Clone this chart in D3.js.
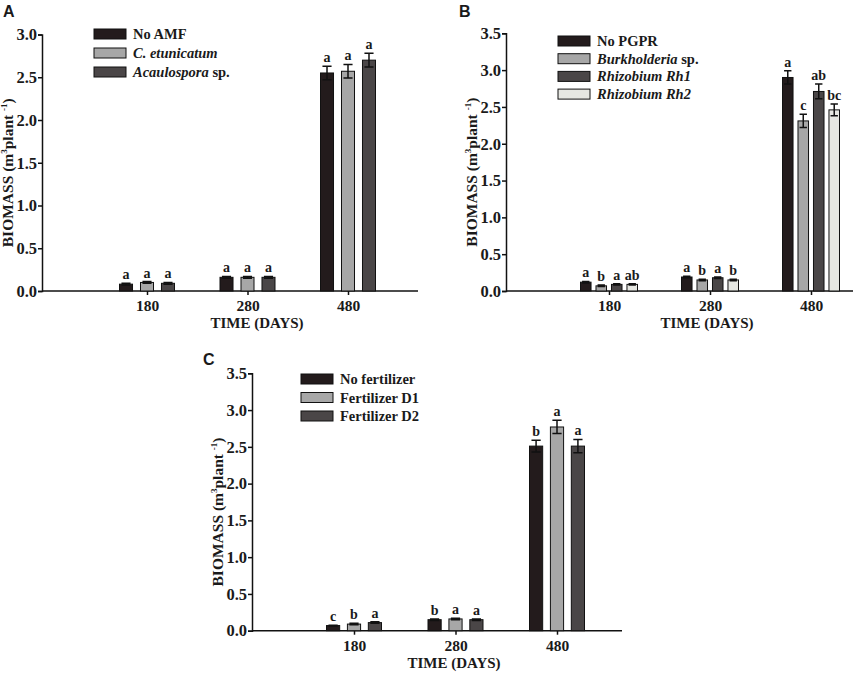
<!DOCTYPE html>
<html>
<head>
<meta charset="utf-8">
<script src="https://cdn.jsdelivr.net/npm/d3@7"></script>
<style>
  body { margin: 0; background: #fff; }
  svg text { font-family: "Liberation Serif", "Times New Roman", serif; font-weight: bold; fill: #1a1a1a; }
  svg text.panel { font-family: "Liberation Sans", Arial, sans-serif; }
</style>
</head>
<body>
<div id="chart"></div>
<script>
const days = ["180", "280", "480"];

// panel A - mycorrhizal fungi
const amfSeries = ["No AMF", "C. etunicatum", "Acaulospora sp."];
const amfItalic = ["", "C. etunicatum", "Acaulospora"];
const amfMeans = [[0.08, 0.16, 2.55], [0.10, 0.16, 2.57], [0.09, 0.16, 2.70]];
const amfErr = [[0.01, 0.01, 0.08], [0.01, 0.01, 0.08], [0.01, 0.01, 0.08]];
const amfLetters = [["a", "a", "a"], ["a", "a", "a"], ["a", "a", "a"]];

// panel B - PGPR
const pgprSeries = ["No PGPR", "Burkholderia sp.", "Rhizobium Rh1", "Rhizobium Rh2"];
const pgprItalic = ["", "Burkholderia", "Rhizobium Rh1", "Rhizobium Rh2"];
const pgprMeans = [[0.12, 0.19, 2.90], [0.07, 0.15, 2.31], [0.09, 0.18, 2.71], [0.09, 0.15, 2.46]];
const pgprErr = [[0.01, 0.01, 0.09], [0.01, 0.01, 0.09], [0.01, 0.01, 0.10], [0.01, 0.01, 0.08]];
const pgprLetters = [["a", "a", "a"], ["b", "b", "c"], ["a", "a", "ab"], ["ab", "b", "bc"]];

// panel C - fertilizer
const fertSeries = ["No fertilizer", "Fertilizer D1", "Fertilizer D2"];
const fertItalic = ["", "", ""];
const fertMeans = [[0.07, 0.15, 2.51], [0.09, 0.16, 2.77], [0.11, 0.15, 2.51]];
const fertErr = [[0.005, 0.01, 0.08], [0.01, 0.01, 0.09], [0.01, 0.01, 0.09]];
const fertLetters = [["c", "b", "b"], ["b", "a", "a"], ["a", "a", "a"]];

const yTicksA = [0, 0.5, 1.0, 1.5, 2.0, 2.5, 3.0];
const yTicksBC = [0, 0.5, 1.0, 1.5, 2.0, 2.5, 3.0, 3.5];

const colors3 = ["#231b1c", "#a7a7a7", "#4a4647"];
const colors4 = ["#231b1c", "#a7a7a7", "#4a4647", "#e6e7e2"];

const svg = d3.select("#chart")
  .append("svg")
  .attr("width", 856)
  .attr("height", 673);

function drawPanel(p) {
  const g = svg.append("g");

  const y = d3.scaleLinear().domain([0, p.yMax]).range([p.y0, p.yTop]);
  const x0 = d3.scalePoint().domain(days).range(p.centers);
  const x1 = d3.scaleBand()
    .domain(p.series)
    .range([-p.groupW / 2, p.groupW / 2])
    .paddingInner(p.pad);

  // y axis
  const yAxis = g.append("g")
    .attr("transform", `translate(${p.x},0)`)
    .call(d3.axisLeft(y).tickValues(p.yTicks).tickFormat(d3.format(".1f")).tickSize(4).tickPadding(1));
  yAxis.select(".domain").attr("stroke", "#111").attr("stroke-width", 1.5);
  yAxis.selectAll(".tick line").attr("stroke", "#111").attr("stroke-width", 1.5);
  yAxis.selectAll("text").attr("font-size", 16.5).attr("fill", "#1a1a1a");

  // x axis
  const xAxis = g.append("g")
    .attr("transform", `translate(0,${p.y0})`)
    .call(d3.axisBottom(x0).tickSize(4).tickPadding(5));
  xAxis.select(".domain").attr("d", `M${p.x},0H${p.right}`).attr("stroke", "#111").attr("stroke-width", 1.5);
  xAxis.selectAll(".tick line").attr("stroke", "#111").attr("stroke-width", 1.5);
  xAxis.selectAll("text").attr("font-size", 15.5).attr("fill", "#1a1a1a");

  // bars
  p.series.forEach((s, si) => {
    const bw = x1.bandwidth();
    days.forEach((d, di) => {
      const v = p.means[si][di];
      const e = p.err[si][di];
      const bx = x0(d) + x1(s);
      g.append("rect")
        .attr("x", bx)
        .attr("y", y(v))
        .attr("width", bw)
        .attr("height", y(0) - y(v))
        .attr("fill", p.colors[si])
        .attr("stroke", "#111")
        .attr("stroke-width", 1);

      const cx = bx + bw / 2;
      const cap = bw * 0.35;
      g.append("path")
        .attr("d", `M${cx},${y(v - e)}V${y(v + e)}M${cx - cap},${y(v + e)}H${cx + cap}M${cx - cap},${y(v - e)}H${cx + cap}`)
        .attr("stroke", "#111")
        .attr("stroke-width", 1.5)
        .attr("fill", "none");

      g.append("text")
        .attr("x", cx)
        .attr("y", y(v + e) - 4)
        .attr("text-anchor", "middle")
        .attr("font-size", 14)
        .text(p.letters[si][di]);
    });
  });

  // legend
  p.series.forEach((s, si) => {
    const ly = p.legendY + si * p.legendStep;
    g.append("rect")
      .attr("x", p.legendX)
      .attr("y", ly - 5)
      .attr("width", 32)
      .attr("height", 10)
      .attr("fill", p.colors[si])
      .attr("stroke", "#111")
      .attr("stroke-width", 1);
    const t = g.append("text")
      .attr("x", p.legendX + 39)
      .attr("y", ly + 5)
      .attr("font-size", 14.5);
    const it = p.italic[si];
    if (it && s.startsWith(it)) {
      t.append("tspan").attr("font-style", "italic").text(it);
      t.append("tspan").text(s.slice(it.length));
    } else {
      t.text(s);
    }
  });

  // axis titles
  g.append("text")
    .attr("x", p.titleX)
    .attr("y", p.y0 + 37)
    .attr("text-anchor", "middle")
    .attr("font-size", 15)
    .text("TIME (DAYS)");

  const yl = g.append("text")
    .attr("transform", `translate(${p.x - 29},${(p.y0 + p.yTop) / 2 + 10}) rotate(-90)`)
    .attr("text-anchor", "middle")
    .attr("font-size", 15.5);
  yl.append("tspan").text("BIOMASS (m");
  yl.append("tspan").attr("font-size", 9).attr("dy", -6).text("3");
  yl.append("tspan").attr("dy", 6).text("plant ");
  yl.append("tspan").attr("font-size", 9).attr("dy", -6).text("-1");
  yl.append("tspan").attr("dy", 6).text(")");

  g.append("text")
    .attr("class", "panel")
    .attr("x", p.labelX)
    .attr("y", p.labelY)
    .attr("font-size", 16)
    .text(p.label);
}

drawPanel({
  label: "A", labelX: 3, labelY: 17,
  series: amfSeries, italic: amfItalic, means: amfMeans, err: amfErr, letters: amfLetters,
  colors: colors3, yMax: 3.0, yTicks: yTicksA,
  x: 42, right: 418, y0: 291, yTop: 34.5,
  centers: [147, 348], groupW: 55, pad: 0.38,
  legendX: 94, legendY: 34, legendStep: 19, titleX: 257
});

drawPanel({
  label: "B", labelX: 459, labelY: 17,
  series: pgprSeries, italic: pgprItalic, means: pgprMeans, err: pgprErr, letters: pgprLetters,
  colors: colors4, yMax: 3.5, yTicks: yTicksBC,
  x: 506, right: 853, y0: 291, yTop: 33.3,
  centers: [609, 811], groupW: 57, pad: 0.32,
  legendX: 558, legendY: 41, legendStep: 17.7, titleX: 707
});

drawPanel({
  label: "C", labelX: 203, labelY: 365,
  series: fertSeries, italic: fertItalic, means: fertMeans, err: fertErr, letters: fertLetters,
  colors: colors3, yMax: 3.5, yTicks: yTicksBC,
  x: 252, right: 622, y0: 630.7, yTop: 373.3,
  centers: [354, 557], groupW: 55, pad: 0.37,
  legendX: 301, legendY: 379, legendStep: 18.5, titleX: 454
});
</script>
</body>
</html>
